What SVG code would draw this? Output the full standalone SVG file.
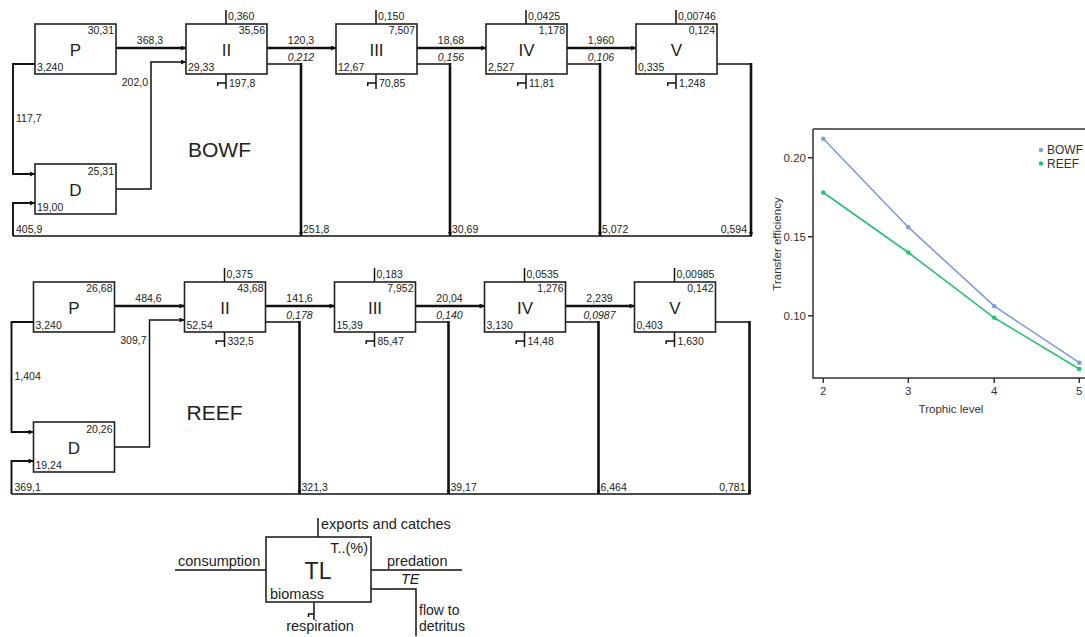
<svg xmlns="http://www.w3.org/2000/svg" width="1085" height="637" viewBox="0 0 1085 637">
<style>
.t{font-family:"Liberation Sans",Arial,Helvetica,sans-serif;font-size:10.5px;fill:#222}
.r{text-anchor:end}
.m{text-anchor:middle}
.i{font-style:italic}
.nm{font-size:17px}
.sys{font-size:21px}
.lg{font-size:14.5px}
.box{fill:#fff;stroke:#222;stroke-width:1.6}
.thk{fill:none;stroke:#111;stroke-width:2.6}
.mid{fill:none;stroke:#111;stroke-width:1.9}
.thn{fill:none;stroke:#111;stroke-width:1.5}
.ax{fill:none;stroke:#333;stroke-width:1.5}
.ct{font-family:"Liberation Sans",Arial,Helvetica,sans-serif;font-size:11.5px;fill:#333}
</style>
<defs>
<marker id="ah" viewBox="0 0 6 6" refX="6" refY="3" markerWidth="6" markerHeight="5" markerUnits="userSpaceOnUse" orient="auto"><path d="M0,0 L6,3 L0,6 z" fill="#111"/></marker>
<marker id="ad" viewBox="0 0 6 6" refX="6" refY="3" markerWidth="5" markerHeight="4" markerUnits="userSpaceOnUse" orient="auto"><path d="M0,0 L6,3 L0,6 z" fill="#111"/></marker>
</defs>

<!-- ================= BOWF ================= -->
<g id="bowf">
<g id="bowf-connectors">
<path class="thk" d="M116,48 H186" marker-end="url(#ah)"/>
<path class="thn" d="M116,189 H151 V62 H186" marker-end="url(#ah)"/>
<path class="mid" d="M35,64 H13 V174 H35" marker-end="url(#ah)"/>
<path class="thn" d="M752,236 H13"/>
<path class="mid" d="M13,236 V203 H35" marker-end="url(#ah)"/>
<path class="thk" d="M267,48 H336" marker-end="url(#ah)"/>
<path class="thk" d="M417,48 H486" marker-end="url(#ah)"/>
<path class="thk" d="M567,48 H636" marker-end="url(#ah)"/>
<path class="thn" d="M267,64 H301"/><path class="thk" d="M301,63 V236" marker-end="url(#ad)"/>
<path class="thn" d="M417,64 H450"/><path class="thk" d="M450,63 V236" marker-end="url(#ad)"/>
<path class="thn" d="M567,64 H600"/><path class="thk" d="M600,63 V236" marker-end="url(#ad)"/>
<path class="thn" d="M717,64 H751"/><path class="thk" d="M751,63 V236" marker-end="url(#ad)"/>
<text class="t m" x="150" y="44">368,3</text>
<text class="t r" x="148" y="86">202,0</text>
<text class="t" x="16" y="122">117,7</text>
<text class="t" x="16" y="233">405,9</text>
<text class="t m" x="301" y="44">120,3</text>
<text class="t m i" x="301" y="61">0,212</text>
<text class="t m" x="451" y="44">18,68</text>
<text class="t m i" x="451" y="61">0,156</text>
<text class="t m" x="601" y="44">1,960</text>
<text class="t m i" x="601" y="61">0,106</text>
<text class="t" x="303" y="233">251,8</text>
<text class="t" x="452" y="233">30,69</text>
<text class="t" x="602" y="233">5,072</text>
<text class="t r" x="747" y="233">0,594</text>
</g>
<g id="bowf-P">
<rect class="box" x="35" y="24" width="81" height="50"/>
<text class="t r" x="114" y="34">30,31</text>
<text class="t nm m" x="75.5" y="56">P</text>
<text class="t" x="37" y="71">3,240</text>
</g>
<g id="bowf-D">
<rect class="box" x="35" y="164" width="81" height="50"/>
<text class="t r" x="114" y="175">25,31</text>
<text class="t nm m" x="75.5" y="196">D</text>
<text class="t" x="37" y="211">19,00</text>
</g>
<g id="bowf-II">
<path class="thn" d="M226,10 V24 M226,74 V89 M217,83 H226 M217.7,83 V86"/>
<rect class="box" x="186" y="24" width="81" height="50"/>
<text class="t" x="228" y="19.5">0,360</text>
<text class="t r" x="265" y="34">35,56</text>
<text class="t nm m" x="226.5" y="56">II</text>
<text class="t" x="188" y="71">29,33</text>
<text class="t" x="229" y="87">197,8</text>
</g>
<g id="bowf-III">
<path class="thn" d="M376,10 V24 M376,74 V89 M367,83 H376 M367.7,83 V86"/>
<rect class="box" x="336" y="24" width="81" height="50"/>
<text class="t" x="378" y="19.5">0,150</text>
<text class="t r" x="415" y="34">7,507</text>
<text class="t nm m" x="376.5" y="56">III</text>
<text class="t" x="338" y="71">12,67</text>
<text class="t" x="379" y="87">70,85</text>
</g>
<g id="bowf-IV">
<path class="thn" d="M526,10 V24 M526,74 V89 M517,83 H526 M517.7,83 V86"/>
<rect class="box" x="486" y="24" width="81" height="50"/>
<text class="t" x="528" y="19.5">0,0425</text>
<text class="t r" x="565" y="34">1,178</text>
<text class="t nm m" x="526.5" y="56">IV</text>
<text class="t" x="488" y="71">2,527</text>
<text class="t" x="529" y="87">11,81</text>
</g>
<g id="bowf-V">
<path class="thn" d="M676,10 V24 M676,74 V89 M667,83 H676 M667.7,83 V86"/>
<rect class="box" x="636" y="24" width="81" height="50"/>
<text class="t" x="678" y="19.5">0,00746</text>
<text class="t r" x="715" y="34">0,124</text>
<text class="t nm m" x="676.5" y="56">V</text>
<text class="t" x="638" y="71">0,335</text>
<text class="t" x="679" y="87">1,248</text>
</g>
<text class="t sys" x="188" y="157">BOWF</text>
</g>

<!-- ================= REEF ================= -->
<g id="reef" transform="translate(-1.5,258)">
<g id="reef-connectors">
<path class="thk" d="M116,48 H186" marker-end="url(#ah)"/>
<path class="thn" d="M116,189 H151 V62 H186" marker-end="url(#ah)"/>
<path class="mid" d="M35,64 H13 V174 H35" marker-end="url(#ah)"/>
<path class="thn" d="M752,236 H13"/>
<path class="mid" d="M13,236 V203 H35" marker-end="url(#ah)"/>
<path class="thk" d="M267,48 H336" marker-end="url(#ah)"/>
<path class="thk" d="M417,48 H486" marker-end="url(#ah)"/>
<path class="thk" d="M567,48 H636" marker-end="url(#ah)"/>
<path class="thn" d="M267,64 H301"/><path class="thk" d="M301,63 V236" marker-end="url(#ad)"/>
<path class="thn" d="M417,64 H450"/><path class="thk" d="M450,63 V236" marker-end="url(#ad)"/>
<path class="thn" d="M567,64 H600"/><path class="thk" d="M600,63 V236" marker-end="url(#ad)"/>
<path class="thn" d="M717,64 H751"/><path class="thk" d="M751,63 V236" marker-end="url(#ad)"/>
<text class="t m" x="150" y="44">484,6</text>
<text class="t r" x="148" y="86">309,7</text>
<text class="t" x="16" y="122">1,404</text>
<text class="t" x="16" y="233">369,1</text>
<text class="t m" x="301" y="44">141,6</text>
<text class="t m i" x="301" y="61">0,178</text>
<text class="t m" x="451" y="44">20,04</text>
<text class="t m i" x="451" y="61">0,140</text>
<text class="t m" x="601" y="44">2,239</text>
<text class="t m i" x="601" y="61">0,0987</text>
<text class="t" x="303" y="233">321,3</text>
<text class="t" x="452" y="233">39,17</text>
<text class="t" x="602" y="233">6,464</text>
<text class="t r" x="747" y="233">0,781</text>
</g>
<g id="reef-P">
<rect class="box" x="35" y="24" width="81" height="50"/>
<text class="t r" x="114" y="34">26,68</text>
<text class="t nm m" x="75.5" y="56">P</text>
<text class="t" x="37" y="71">3,240</text>
</g>
<g id="reef-D">
<rect class="box" x="35" y="164" width="81" height="50"/>
<text class="t r" x="114" y="175">20,26</text>
<text class="t nm m" x="75.5" y="196">D</text>
<text class="t" x="37" y="211">19,24</text>
</g>
<g id="reef-II">
<path class="thn" d="M226,10 V24 M226,74 V89 M217,83 H226 M217.7,83 V86"/>
<rect class="box" x="186" y="24" width="81" height="50"/>
<text class="t" x="228" y="19.5">0,375</text>
<text class="t r" x="265" y="34">43,68</text>
<text class="t nm m" x="226.5" y="56">II</text>
<text class="t" x="188" y="71">52,54</text>
<text class="t" x="229" y="87">332,5</text>
</g>
<g id="reef-III">
<path class="thn" d="M376,10 V24 M376,74 V89 M367,83 H376 M367.7,83 V86"/>
<rect class="box" x="336" y="24" width="81" height="50"/>
<text class="t" x="378" y="19.5">0,183</text>
<text class="t r" x="415" y="34">7,952</text>
<text class="t nm m" x="376.5" y="56">III</text>
<text class="t" x="338" y="71">15,39</text>
<text class="t" x="379" y="87">85,47</text>
</g>
<g id="reef-IV">
<path class="thn" d="M526,10 V24 M526,74 V89 M517,83 H526 M517.7,83 V86"/>
<rect class="box" x="486" y="24" width="81" height="50"/>
<text class="t" x="528" y="19.5">0,0535</text>
<text class="t r" x="565" y="34">1,276</text>
<text class="t nm m" x="526.5" y="56">IV</text>
<text class="t" x="488" y="71">3,130</text>
<text class="t" x="529" y="87">14,48</text>
</g>
<g id="reef-V">
<path class="thn" d="M676,10 V24 M676,74 V89 M667,83 H676 M667.7,83 V86"/>
<rect class="box" x="636" y="24" width="81" height="50"/>
<text class="t" x="678" y="19.5">0,00985</text>
<text class="t r" x="715" y="34">0,142</text>
<text class="t nm m" x="676.5" y="56">V</text>
<text class="t" x="638" y="71">0,403</text>
<text class="t" x="679" y="87">1,630</text>
</g>
<text class="t sys" x="188" y="162">REEF</text>
</g>

<!-- ================= KEY ================= -->
<g id="key">
<path class="thn" d="M175,570 H266 M371,570 H462 M371,589 H416 V636 M318,518 V537 M314,602 V620 M308,614 H314 M308.5,614 V617"/>
<rect class="box" x="266" y="537" width="105" height="65"/>
<text class="t lg" x="321" y="529">exports and catches</text>
<text class="t lg r" x="368" y="553">T..(%)</text>
<text class="t m" style="font-size:23px" x="318" y="579">TL</text>
<text class="t lg" x="270" y="599">biomass</text>
<text class="t lg" x="178" y="566">consumption</text>
<text class="t lg" x="387" y="566">predation</text>
<text class="t lg i" x="401" y="584">TE</text>
<text class="t lg m" x="320" y="631">respiration</text>
<text class="t" style="font-size:14px" x="419" y="615">flow to</text>
<text class="t" style="font-size:14px" x="419" y="631">detritus</text>
</g>

<!-- ================= CHART ================= -->
<g id="chart">
<path class="ax" d="M813,129 V378 H1085 M813,129 H1085"/>
<path class="ax" d="M808,157.7 H813 M808,236.7 H813 M808,315.7 H813 M823.3,378 V383 M908.3,378 V383 M994.3,378 V383 M1079.3,378 V383"/>
<text class="ct r" x="806" y="161.5">0.20</text>
<text class="ct r" x="806" y="240.5">0.15</text>
<text class="ct r" x="806" y="319.5">0.10</text>
<text class="ct m" x="823.3" y="395">2</text>
<text class="ct m" x="908.3" y="395">3</text>
<text class="ct m" x="994.3" y="395">4</text>
<text class="ct m" x="1079.3" y="395">5</text>
<text class="ct m" x="951" y="413">Trophic level</text>
<text class="ct m" transform="translate(781,244) rotate(-90)">Transfer efficiency</text>
<polyline points="823.3,138.7 908.3,227.2 994.3,306.2 1079.3,362.7" fill="none" stroke="#7d9be0" stroke-width="1.6"/>
<polyline points="823.3,192.5 908.3,252.5 994.3,317.8 1079.3,369" fill="none" stroke="#26c173" stroke-width="1.6"/>
<g fill="#7d9be0"><circle cx="823.3" cy="138.7" r="2.3"/><circle cx="908.3" cy="227.2" r="2.3"/><circle cx="994.3" cy="306.2" r="2.3"/><circle cx="1079.3" cy="362.7" r="2.3"/><circle cx="1041" cy="150" r="2.2"/></g>
<g fill="#26c173"><circle cx="823.3" cy="192.5" r="2.3"/><circle cx="908.3" cy="252.5" r="2.3"/><circle cx="994.3" cy="317.8" r="2.3"/><circle cx="1079.3" cy="369" r="2.3"/><circle cx="1041" cy="163.5" r="2.2"/></g>
<text class="ct" style="font-size:12px" x="1047" y="154">BOWF</text>
<text class="ct" style="font-size:12px" x="1047" y="168">REEF</text>
</g>
</svg>
